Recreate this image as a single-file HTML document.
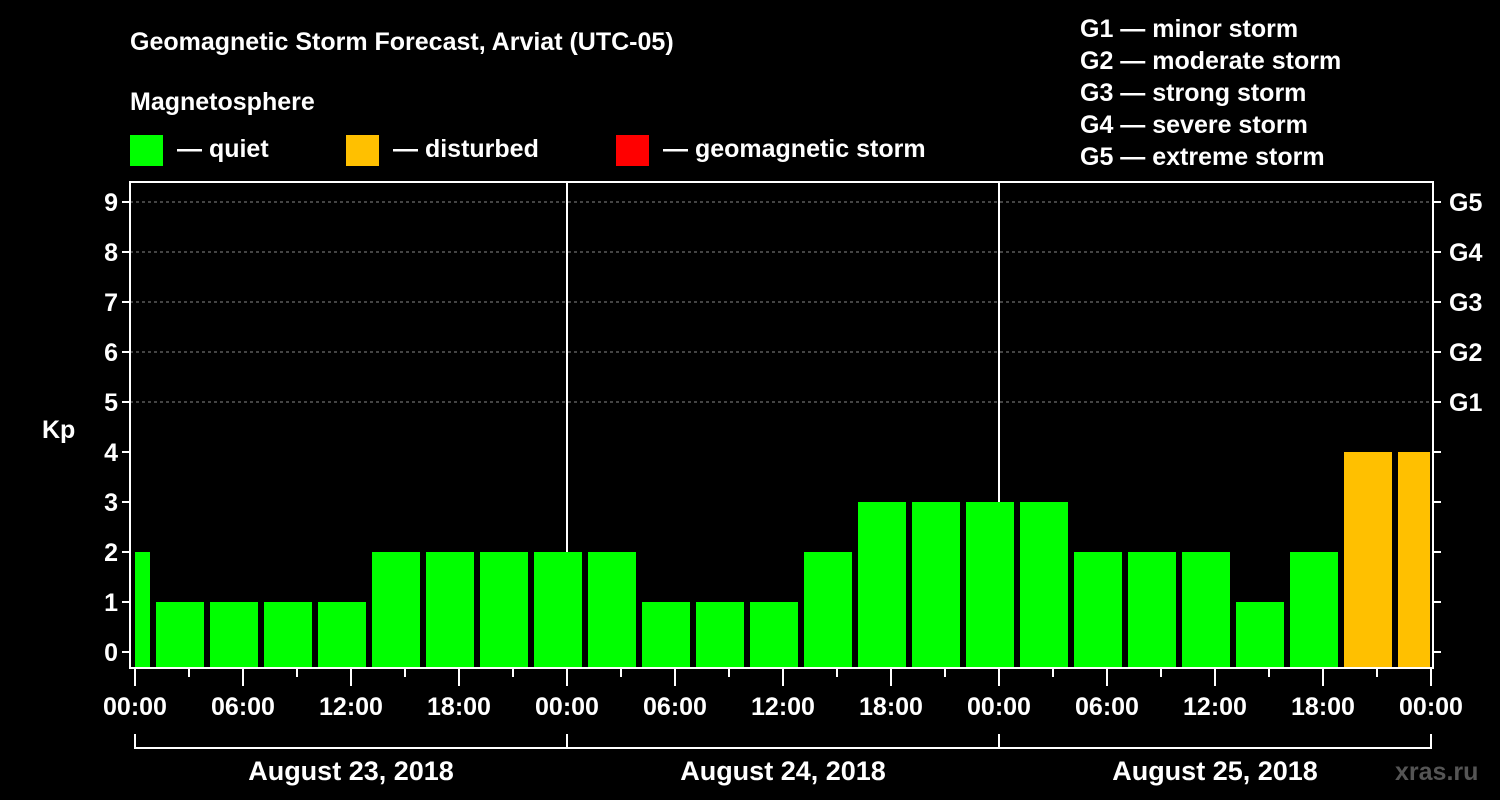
<!DOCTYPE html>
<html><head><meta charset="utf-8"><style>
html,body{margin:0;padding:0;background:#000;}
svg{display:block;font-family:"Liberation Sans",Arial,sans-serif;font-weight:bold;}
</style></head><body>
<svg id="c" width="1500" height="800" viewBox="0 0 1500 800">
<text x="130" y="50" fill="#fff" font-size="25">Geomagnetic Storm Forecast, Arviat (UTC-05)</text>
<text x="130" y="110" fill="#fff" font-size="25">Magnetosphere</text>
<g><rect x="130" y="135" width="33" height="31" fill="#00ff00"/><text x="177" y="157" fill="#fff" font-size="25">— quiet</text></g>
<g><rect x="346" y="135" width="33" height="31" fill="#ffc000"/><text x="393" y="157" fill="#fff" font-size="25">— disturbed</text></g>
<g><rect x="616" y="135" width="33" height="31" fill="#ff0000"/><text x="663" y="157" fill="#fff" font-size="25">— geomagnetic storm</text></g>
<g fill="#fff" font-size="25">
<text x="1080" y="37">G1 — minor storm</text>
<text x="1080" y="69">G2 — moderate storm</text>
<text x="1080" y="101">G3 — strong storm</text>
<text x="1080" y="133">G4 — severe storm</text>
<text x="1080" y="165">G5 — extreme storm</text>
</g>
<text x="42" y="438" fill="#fff" font-size="25">Kp</text>
<text x="1395" y="780" fill="#555" font-size="25">xras.ru</text>
<g id="grid"></g><g id="bars"></g><g id="axes"></g>
</svg>
<script>
const kpValues=[2,1,1,1,1,2,2,2,2,2,1,1,1,2,3,3,3,3,2,2,2,1,2,4,4];
const barColors=["g","g","g","g","g","g","g","g","g","g","g","g","g","g","g","g","g","g","g","g","g","g","g","o","o"];
const yTicks=[0,1,2,3,4,5,6,7,8,9];
const gLabels=["G1","G2","G3","G4","G5"];
const hourLabels=["00:00","06:00","12:00","18:00","00:00","06:00","12:00","18:00","00:00","06:00","12:00","18:00","00:00"];
const dayLabels=["August 23, 2018","August 24, 2018","August 25, 2018"];
const NS="http://www.w3.org/2000/svg";
const L=130,R=1433,T=182,B=668,X0=135,PX_H=18;
const y=v=>652-v*50, x=h=>X0+h*PX_H;
function mk(p,t,a){const e=document.createElementNS(NS,t);for(const k in a)e.setAttribute(k,a[k]);p.appendChild(e);return e;}
const grid=document.getElementById('grid'),bars=document.getElementById('bars'),ax=document.getElementById('axes');
[5,6,7,8,9].forEach(v=>{const l=mk(grid,'line',{x1:L,x2:R,y1:y(v),y2:y(v),stroke:'#888','stroke-dasharray':'3,3','stroke-width':1});

});
[24,48].forEach(h=>{const l=mk(grid,'line',{x1:x(h),x2:x(h),y1:T,y2:B,stroke:'#fff','stroke-width':2});

});
kpValues.forEach((v,i)=>{let s=x(-2+3*i)+3,e=s+48;s=Math.max(s,X0);e=Math.min(e,R-3);
const r=mk(bars,'rect',{x:s,y:y(v),width:e-s,height:B-y(v),fill:barColors[i]=='o'?'#ffc000':'#00ff00'});

});
const fr=mk(ax,'rect',{x:L,y:T,width:R-L,height:B-T,fill:'none',stroke:'#fff','stroke-width':2});


yTicks.forEach(v=>{mk(ax,'line',{x1:L-8,x2:L,y1:y(v),y2:y(v),stroke:'#fff','stroke-width':2});
mk(ax,'line',{x1:R,x2:R+8,y1:y(v),y2:y(v),stroke:'#fff','stroke-width':2});
const t=mk(ax,'text',{x:L-12,y:y(v)+9,fill:'#fff','font-size':25,'text-anchor':'end'});t.textContent=v;

});
gLabels.forEach((g,i)=>{const t=mk(ax,'text',{x:R+16,y:y(5+i)+9,fill:'#fff','font-size':25});t.textContent=g;

});
for(let h=0;h<=72;h+=3){mk(ax,'line',{x1:x(h),x2:x(h),y1:B,y2:B+(h%6==0?18:9),stroke:'#fff','stroke-width':2});}
hourLabels.forEach((s,i)=>{const t=mk(ax,'text',{x:x(i*6),y:715,fill:'#fff','font-size':25,'text-anchor':'middle'});t.textContent=s;

});
mk(ax,'line',{x1:x(0),x2:x(72),y1:748,y2:748,stroke:'#fff','stroke-width':2});
[0,24,48,72].forEach(h=>mk(ax,'line',{x1:x(h),x2:x(h),y1:734,y2:749,stroke:'#fff','stroke-width':2}));
dayLabels.forEach((s,i)=>{const t=mk(ax,'text',{x:x(i*24+12),y:780,fill:'#fff','font-size':27,'text-anchor':'middle'});t.textContent=s;

});
</script>
</body></html>
